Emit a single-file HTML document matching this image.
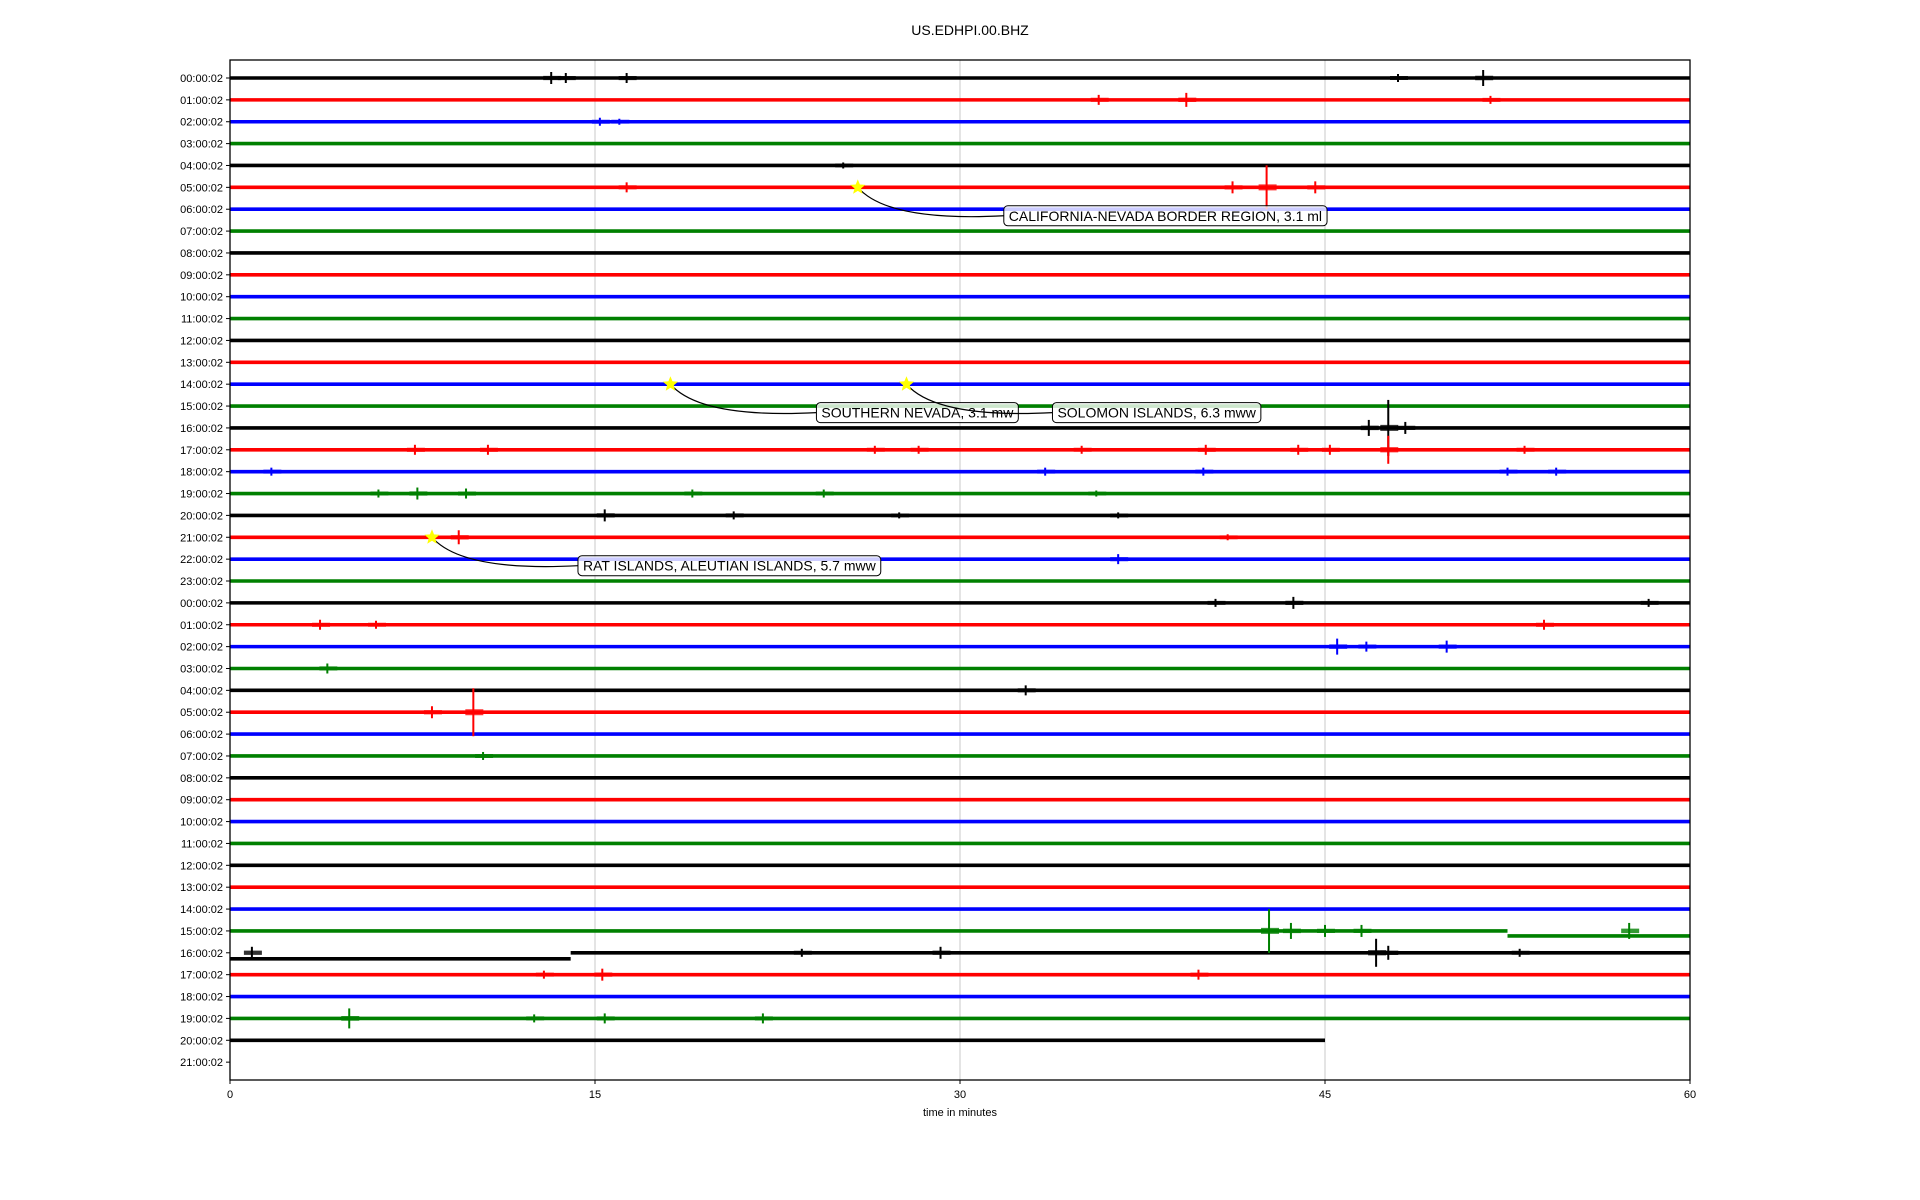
<!DOCTYPE html>
<html><head><meta charset="utf-8"><style>
html,body{margin:0;padding:0;background:#fff;}
svg{display:block;font-family:"Liberation Sans","DejaVu Sans",sans-serif;}
</style></head><body>
<svg id="chart" width="1920" height="1200" viewBox="0 0 1920 1200">
<rect width="1920" height="1200" fill="#fff"/>
<text x="970" y="35" font-size="14" text-anchor="middle">US.EDHPI.00.BHZ</text>
<g id="grid"></g><g id="traces"></g><g id="ann"></g><g id="axes"></g>
</svg>
<script>
const rowLabels = ["00:00:02","01:00:02","02:00:02","03:00:02","04:00:02","05:00:02","06:00:02","07:00:02","08:00:02","09:00:02","10:00:02","11:00:02","12:00:02","13:00:02","14:00:02","15:00:02","16:00:02","17:00:02","18:00:02","19:00:02","20:00:02","21:00:02","22:00:02","23:00:02","00:00:02","01:00:02","02:00:02","03:00:02","04:00:02","05:00:02","06:00:02","07:00:02","08:00:02","09:00:02","10:00:02","11:00:02","12:00:02","13:00:02","14:00:02","15:00:02","16:00:02","17:00:02","18:00:02","19:00:02","20:00:02","21:00:02"];
const xTicks = [0,15,30,45,60];
const traceCount = 45;
const lastTraceEnd = 45;
const traceColors = ["#000","#f00","#00f","#008000"];
const eventRows = [0,0,0,0,0,1,1,1,2,2,4,5,5,5,5,16,16,16,17,17,17,17,17,17,17,17,17,17,18,18,18,18,18,19,19,19,19,19,19,20,20,20,20,21,21,22,24,24,24,25,25,25,26,26,26,27,28,29,29,31,39,39,39,39,39,40,40,40,40,40,40,41,41,41,43,43,43,43];
const eventMinutes = [13.2,13.8,16.3,48,51.5,35.7,39.3,51.8,15.2,16,25.2,16.3,42.6,41.2,44.6,46.8,47.6,48.3,7.6,10.6,26.5,28.3,35,40.1,43.9,45.2,47.6,53.2,1.7,33.5,40,52.5,54.5,6.1,7.7,9.7,19,24.4,35.6,15.4,20.7,27.5,36.5,9.4,41,36.5,40.5,43.7,58.3,3.7,6,54,45.5,46.7,50,4,32.7,8.3,10,10.4,42.7,43.6,45,46.5,57.5,0.9,23.5,29.2,47.1,47.6,53,12.9,15.3,39.8,4.9,12.5,15.4,21.9];
const eventAmps = [6,5,5,4,8,5,7,4,4,3,3,5,22,6,6,8,28,6,5,5,4,4,4,5,5,5,14,4,4,4,4,4,4,4,6,5,4,4,3,6,4,3,3,7,3,5,4,6,4,5,4,5,8,5,6,5,5,6,24,4,22,8,6,6,8,6,4,6,14,7,4,4,6,5,10,4,5,5];
const stepRows = [40,39];
const stepStart = [0,52.5];
const stepEnd = [14,60];
const stepOffset = [6,5];
const quakeNames = ["CALIFORNIA-NEVADA BORDER REGION, 3.1 ml","SOUTHERN NEVADA, 3.1 mw","SOLOMON ISLANDS, 6.3 mww","RAT ISLANDS, ALEUTIAN ISLANDS, 5.7 mww"];
const quakeRows = [5,14,14,21];
const quakeMinutes = [25.8,18.1,27.8,8.3];
const labelRowOffset = [1.3,1.3,1.3,1.3];
const labelMinutes = [31.8,24.1,33.8,14.3];

const L=230,R=1690,T=60,B=1080,Y0=78,DY=21.87;
const xs=m=>L+(R-L)*m/60;
const ys=r=>Y0+DY*r;
const NS="http://www.w3.org/2000/svg";
function mk(p,t,a){const e=document.createElementNS(NS,t);for(const k in a)e.setAttribute(k,a[k]);p.appendChild(e);return e;}
const grid=document.getElementById('grid'),tr=document.getElementById('traces'),ann=document.getElementById('ann'),ax=document.getElementById('axes');
[15,30,45].forEach(m=>{const g=mk(grid,'line',{x1:xs(m),x2:xs(m),y1:T,y2:B,stroke:'#c8c8c8','stroke-width':1});

});
for(let r=0;r<traceCount;r++){
  const c=traceColors[r%4];const end=r===traceCount-1?lastTraceEnd:60;
  let segs=[[0,end,0]];
  const si=stepRows.indexOf(r);
  if(si>=0){segs=[];const s=stepStart[si],e=stepEnd[si];if(s>0)segs.push([0,s,0]);segs.push([s,e,stepOffset[si]]);if(e<end)segs.push([e,end,0]);}
  segs.forEach(sg=>{const l=mk(tr,'line',{x1:xs(sg[0]),x2:xs(sg[1]),y1:ys(r)+sg[2],y2:ys(r)+sg[2],stroke:c,'stroke-width':3.6});
  
  });
}
for(let i=0;i<eventRows.length;i++){
  const r=eventRows[i],c=traceColors[r%4],x=xs(eventMinutes[i]),a=eventAmps[i];
  const l=mk(tr,'line',{x1:x,x2:x,y1:ys(r)-a,y2:ys(r)+a,stroke:c,'stroke-width':2});
  
  
  const l2=mk(tr,'line',{x1:x-8,x2:x+10,y1:ys(r),y2:ys(r),stroke:c,'stroke-width':Math.min(6,3.5+a/8),'stroke-opacity':0.8});
  
  
}
function star(cx,cy,R1,R2){let p=[];for(let k=0;k<10;k++){const ang=-Math.PI/2+k*Math.PI/5,rr=k%2?R2:R1;p.push((cx+rr*Math.cos(ang)).toFixed(1)+','+(cy+rr*Math.sin(ang)).toFixed(1));}return p.join(' ');}
for(let i=0;i<quakeNames.length;i++){
  const sx=xs(quakeMinutes[i]),sy=ys(quakeRows[i]);
  const lx=xs(labelMinutes[i]),ly=ys(quakeRows[i]+labelRowOffset[i]);
  const cp=mk(ann,'path',{d:`M${sx},${sy} Q${sx+30},${ly+6} ${lx},${ly}`,fill:'none',stroke:'#000','stroke-width':1.2});
  
  
  const st=mk(ann,'polygon',{points:star(sx,sy,8,3.5),fill:'#ffff00'});
  
  
  const bx=mk(ann,'rect',{x:lx,y:ly-10,width:10,height:20,rx:4,fill:'#fff','fill-opacity':0.8,stroke:'#000','stroke-width':1});
  
  
  const tx=mk(ann,'text',{x:lx+5,y:ly+5,'font-size':14});
  tx.textContent=quakeNames[i];
  
  
  bx.setAttribute('width',tx.getComputedTextLength()+10);
}
const fr=mk(ax,'rect',{x:L,y:T,width:R-L,height:B-T,fill:'none',stroke:'#000','stroke-width':1.3});


rowLabels.forEach((lab,r)=>{const y=ys(r);
  const tk=mk(ax,'line',{x1:L-4,x2:L,y1:y,y2:y,stroke:'#000'});
  
  
  const t=mk(ax,'text',{x:L-7,y:y+4,'font-size':11,'text-anchor':'end'});t.textContent=lab;
  
  });
xTicks.forEach(m=>{const x=xs(m);
  const tk=mk(ax,'line',{x1:x,x2:x,y1:B,y2:B+4,stroke:'#000'});
  
  
  const t=mk(ax,'text',{x:x,y:B+18,'font-size':11,'text-anchor':'middle'});t.textContent=m;
  
  });
const xl=mk(ax,'text',{x:(L+R)/2,y:B+36,'font-size':11,'text-anchor':'middle'});xl.textContent='time in minutes';


</script>
</body></html>
